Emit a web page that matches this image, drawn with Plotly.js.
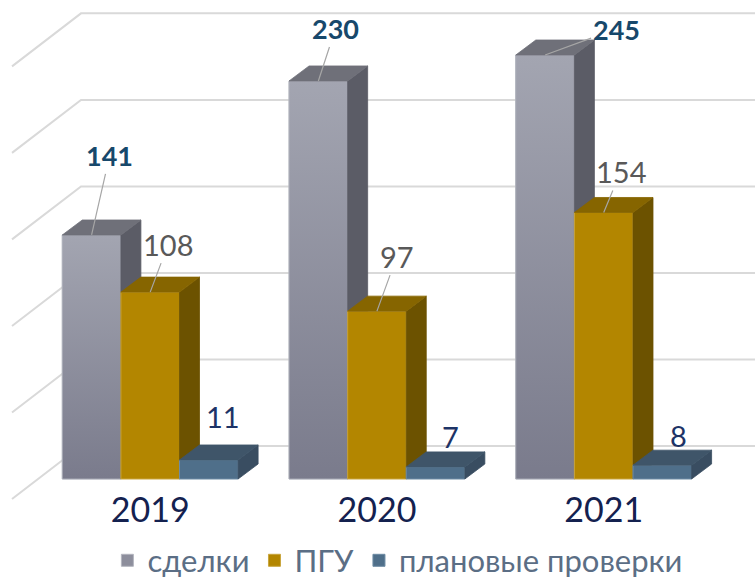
<!DOCTYPE html>
<html><head><meta charset="utf-8">
<script src="https://cdn.plot.ly/plotly-3.0.1.min.js"></script>
<style>html,body{margin:0;padding:0;background:#fff}#chart{width:755px;height:578px}</style>
</head><body><div id="chart"></div>
<script>
// ---------- data ----------
const categories = ['2019', '2020', '2021'];
const seriesNames = ['сделки', 'ПГУ', 'плановые проверки'];
const sdelki = [141, 230, 245];
const pgu = [108, 97, 154];
const planovye = [11, 7, 8];
const gridTicks = [0, 50, 100, 150, 200, 250];

// ---------- geometry (pixel calibration -> data units) ----------
const W = 755, H = 578;
const cat0Px = 150.2, catStepPx = 226.75;
const zeroPx = 479, pxPerUnit = 1.7306;
const xRange = [-cat0Px / catStepPx, (W - cat0Px) / catStepPx];
const yRange = [(zeroPx - H) / pxPerUnit, zeroPx / pxPerUnit];
const dX = p => p / catStepPx;
const dY = p => p / pxPerUnit;
const absX = p => (p - cat0Px) / catStepPx;
const barW = dX(58.6);
const depthX = dX(20), depthY = dY(15);
const wallY = dY(33);
const wallCornerX = absX(81), wallFrontX = absX(12), wallDrop = dY(53);

// ---------- styles ----------
const FONT = 'Lato, "Noto Sans", sans-serif';
const styles = [
  {front: '#8d8e9c', edge: '#b3b5bf', top: '#6f7079', side: '#5b5c66', grad: ['#7a7b8c', '#a3a5b1'],
   font: {family: FONT, size: 27, color: '#17486b', weight: 'bold'}, arrow: true},
  {front: '#b38600', edge: '#c9a53e', top: '#866500', side: '#6c5200', grad: null,
   font: {family: FONT, size: 29, color: '#595959'}, arrow: true},
  {front: '#4f6f8a', edge: '#6d8ba4', top: '#3f5569', side: '#394d61', grad: null,
   font: {family: FONT, size: 29, color: '#1d3366'}, arrow: false}
];
const labelOffsets = [
  [[18, -79], [17, -52], [71, -26]],
  [[18, -48], [20, -55], [17, -41]],
  [[14, -43], [15, -30], [16, -30]]
];

const seriesValues = [sdelki, pgu, planovye];
const traces = [];
const annotations = [];

seriesValues.forEach((vals, i) => {
  const st = styles[i];
  const xa = i === 0 ? 'x' : 'x' + (i + 1);
  const ya = i === 0 ? 'y' : 'y' + (i + 1);
  const off = -1.5 * barW + i * barW;
  const xs = categories.map((c, j) => j);

  // front faces (bars)
  traces.push({
    type: 'bar', name: seriesNames[i], x: xs, y: vals, width: barW, offset: off,
    xaxis: xa, yaxis: ya,
    marker: {color: st.front, line: {color: st.edge, width: 1}},
    hoverinfo: 'skip'
  });

  // gradient overlay for front faces
  if (st.grad) {
    vals.forEach((v, j) => {
      const x0 = j + off, x1 = x0 + barW;
      traces.push({
        type: 'scatter', mode: 'lines', x: [x0, x1, x1, x0, x0], y: [0, 0, v, v, 0],
        xaxis: xa, yaxis: ya, fill: 'toself', line: {width: 0.8, color: st.edge},
        fillgradient: {type: 'vertical', colorscale: [[0, st.grad[0]], [1, st.grad[1]]]},
        showlegend: false, hoverinfo: 'skip'
      });
    });
  }

  // side and top faces
  const sx = [], sy = [], tx = [], ty = [];
  vals.forEach((v, j) => {
    const x0 = j + off, x1 = x0 + barW;
    sx.push(x1, x1 + depthX, x1 + depthX, x1, x1, null);
    sy.push(0, depthY, v + depthY, v, 0, null);
    tx.push(x0, x1, x1 + depthX, x0 + depthX, x0, null);
    ty.push(v, v, v + depthY, v + depthY, v, null);
  });
  traces.push({type: 'scatter', mode: 'lines', x: sx, y: sy, xaxis: xa, yaxis: ya,
    fill: 'toself', fillcolor: st.side, line: {width: 0.8, color: st.side},
    showlegend: false, hoverinfo: 'skip'});
  traces.push({type: 'scatter', mode: 'lines', x: tx, y: ty, xaxis: xa, yaxis: ya,
    fill: 'toself', fillcolor: st.top, line: {width: 0.8, color: st.top},
    showlegend: false, hoverinfo: 'skip'});

  // value labels
  vals.forEach((v, j) => {
    const cx = j + off + barW / 2;
    const o = labelOffsets[i][j];
    if (st.arrow) {
      annotations.push({x: cx, y: v, xref: 'x', yref: 'y', text: String(v),
        showarrow: true, arrowhead: 0, arrowwidth: 1.2, arrowcolor: '#a6a6a6',
        ax: o[0], ay: o[1], standoff: 0, font: st.font});
    } else {
      annotations.push({x: cx, y: v, xref: 'x', yref: 'y', text: String(v),
        showarrow: false, xshift: o[0], yshift: -o[1], font: st.font});
    }
  });
});

// perspective gridlines (side wall + back wall)
const shapes = gridTicks.map(t => {
  const yb = t + wallY;
  return {type: 'path', xref: 'x', yref: 'y', layer: 'below',
    path: `M ${wallFrontX},${yb - wallDrop} L ${wallCornerX},${yb} L ${xRange[1]},${yb}`,
    line: {color: '#d9d9d9', width: 2}};
});

const hidden = (ov, anc) => ({overlaying: ov, anchor: anc, visible: false, fixedrange: true});
const layout = {
  width: W, height: H, margin: {l: 0, r: 0, t: 0, b: 0, autoexpand: false},
  paper_bgcolor: '#ffffff', plot_bgcolor: 'rgba(0,0,0,0)',
  showlegend: true,
  xaxis: {range: xRange, tickvals: [0, 1, 2], ticktext: categories, anchor: 'free', position: 0.158,
    showgrid: false, zeroline: false, showline: false, ticks: '', fixedrange: true, automargin: false,
    tickfont: {family: FONT, size: 34, color: '#14214f'}},
  yaxis: {range: yRange, visible: false, fixedrange: true},
  xaxis2: Object.assign(hidden('x', 'y2'), {range: xRange}),
  yaxis2: Object.assign(hidden('y', 'x2'), {range: yRange}),
  xaxis3: Object.assign(hidden('x', 'y3'), {range: xRange}),
  yaxis3: Object.assign(hidden('y', 'x3'), {range: yRange}),
  legend: {orientation: 'h', x: 0.527, xanchor: 'center', y: 0.03, yanchor: 'middle',
    bgcolor: 'rgba(0,0,0,0)', font: {family: FONT, size: 31, color: '#5b6e85'},
    traceorder: 'normal'},
  shapes: shapes,
  annotations: annotations
};

Plotly.newPlot('chart', traces, layout, {staticPlot: true, displayModeBar: false});
</script></body></html>
